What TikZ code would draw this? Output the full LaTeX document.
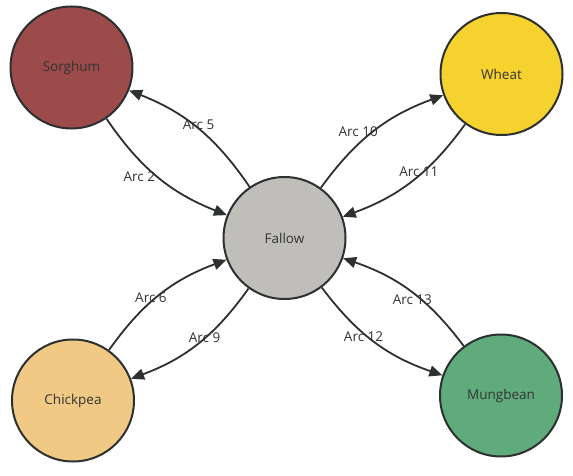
\documentclass[tikz,border=0pt]{standalone}
\usepackage{fontspec}
\setmainfont{Open Sans}
\usetikzlibrary{arrows.meta}
\definecolor{bordc}{HTML}{2D3030}
\definecolor{txtc}{HTML}{333333}
\definecolor{sorghumc}{HTML}{9C4A4A}
\definecolor{wheatc}{HTML}{F6D22E}
\definecolor{fallowc}{HTML}{C0BEBA}
\definecolor{chickpeac}{HTML}{F0CA84}
\definecolor{mungbeanc}{HTML}{5FAB7B}
\tikzset{
  crop/.style={circle, draw=bordc, line width=2pt, minimum size=122pt, inner sep=0pt,
    text=txtc, font=\fontsize{13.5}{16}\selectfont},
  arc/.style={draw=bordc, line width=1.8pt, -{Triangle[length=13pt,width=11pt]}},
  lbl/.style={text=txtc, font=\fontsize{13.5}{16}\selectfont, inner sep=0pt, pos=0.5}
}
\begin{document}
\begin{tikzpicture}[x=1pt,y=1pt]
\useasboundingbox (0,0) rectangle (573,475);
\node[crop, fill=sorghumc] (sorghum) at (71.5,407.5) {Sorghum};
\node[crop, fill=wheatc] (wheat) at (501.5,401) {Wheat};
\node[crop, fill=fallowc] (fallow) at (284.5,237) {Fallow};
\node[crop, fill=chickpeac] (chickpea) at (73,74.5) {Chickpea};
\node[crop, fill=mungbeanc] (mungbean) at (501,79.5) {Mungbean};

\draw[arc] (sorghum) to[bend right=17] node[lbl, xshift=-19, yshift=1] (l2) {Arc 2} (fallow);
\draw[arc] (fallow) to[bend right=17] node[lbl, xshift=1, yshift=4] (l5) {Arc 5} (sorghum);
\draw[arc] (fallow) to[bend left=17] node[lbl, xshift=-16, yshift=-0.5] (l10) {Arc 10} (wheat);
\draw[arc] (wheat) to[bend left=17] node[lbl, xshift=7, yshift=9.5] (l11) {Arc 11} (fallow);
\draw[arc] (chickpea) to[bend left=17] node[lbl, xshift=-9, yshift=-3] (l6) {Arc 6} (fallow);
\draw[arc] (fallow) to[bend left=17] node[lbl, xshift=7, yshift=6] (l9) {Arc 9} (chickpea);
\draw[arc] (fallow) to[bend right=17] node[lbl, xshift=-11, yshift=4.6] (l12) {Arc 12} (mungbean);
\draw[arc] (mungbean) to[bend right=17] node[lbl, xshift=1.4, yshift=-8.1] (l13) {Arc 13} (fallow);
\end{tikzpicture}
\end{document}
